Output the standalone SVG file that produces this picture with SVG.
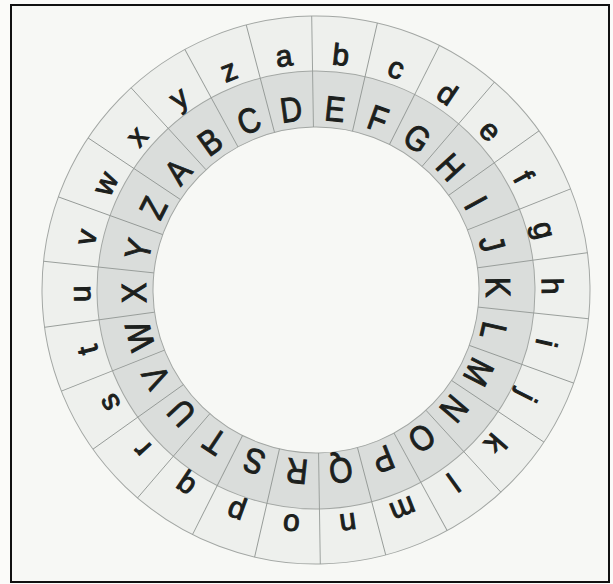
<svg xmlns="http://www.w3.org/2000/svg" xmlns:xlink="http://www.w3.org/1999/xlink" width="613" height="584" viewBox="0 0 613 584">
<style>
.lc{font-family:"Liberation Sans",Arial,sans-serif;font-size:30px;fill:#1c1f1d;text-anchor:middle;stroke:#1c1f1d;stroke-width:1}
.uc{font-family:"Liberation Sans",Arial,sans-serif;font-size:35px;fill:#1c1f1d;text-anchor:middle;stroke:#1c1f1d;stroke-width:1}
.ring{stroke:#a3a7a4;stroke-width:1}
.div{stroke:#959a97;stroke-width:0.9}
</style>
<defs>
<line id="d" class="div" x1="0" y1="-163" x2="0" y2="-274"/>
</defs>
<rect x="0" y="0" width="613" height="584" fill="#fbfbf9"/>
<rect id="frame" x="11" y="5" width="598" height="577" fill="#f7f8f5" stroke="#111" stroke-width="2"/>
<g transform="translate(316 290) rotate(-0.9)">
<g id="rings">
<circle class="ring" r="274" fill="#eef0ed"/>
<circle class="ring" r="219" fill="#dadddb"/>
<circle class="ring" r="163" fill="#f7f8f5"/>
</g>
<g id="connectors">
<use xlink:href="#d" transform="rotate(0)"/>
<use xlink:href="#d" transform="rotate(13.846)"/>
<use xlink:href="#d" transform="rotate(27.692)"/>
<use xlink:href="#d" transform="rotate(41.538)"/>
<use xlink:href="#d" transform="rotate(55.385)"/>
<use xlink:href="#d" transform="rotate(69.231)"/>
<use xlink:href="#d" transform="rotate(83.077)"/>
<use xlink:href="#d" transform="rotate(96.923)"/>
<use xlink:href="#d" transform="rotate(110.769)"/>
<use xlink:href="#d" transform="rotate(124.615)"/>
<use xlink:href="#d" transform="rotate(138.462)"/>
<use xlink:href="#d" transform="rotate(152.308)"/>
<use xlink:href="#d" transform="rotate(166.154)"/>
<use xlink:href="#d" transform="rotate(180)"/>
<use xlink:href="#d" transform="rotate(193.846)"/>
<use xlink:href="#d" transform="rotate(207.692)"/>
<use xlink:href="#d" transform="rotate(221.538)"/>
<use xlink:href="#d" transform="rotate(235.385)"/>
<use xlink:href="#d" transform="rotate(249.231)"/>
<use xlink:href="#d" transform="rotate(263.077)"/>
<use xlink:href="#d" transform="rotate(276.923)"/>
<use xlink:href="#d" transform="rotate(290.769)"/>
<use xlink:href="#d" transform="rotate(304.615)"/>
<use xlink:href="#d" transform="rotate(318.462)"/>
<use xlink:href="#d" transform="rotate(332.308)"/>
<use xlink:href="#d" transform="rotate(346.154)"/>
</g>
<g id="outer-letters">
<text class="lc" transform="rotate(-6.923) translate(0 -226)">a</text>
<text class="lc" transform="rotate(6.923) translate(0 -226)">b</text>
<text class="lc" transform="rotate(20.769) translate(0 -226)">c</text>
<text class="lc" transform="rotate(34.615) translate(0 -226)">d</text>
<text class="lc" transform="rotate(48.462) translate(0 -226)">e</text>
<text class="lc" transform="rotate(62.308) translate(0 -226)">f</text>
<text class="lc" transform="rotate(76.154) translate(0 -226)">g</text>
<text class="lc" transform="rotate(90) translate(0 -226)">h</text>
<text class="lc" transform="rotate(103.846) translate(0 -226)">i</text>
<text class="lc" transform="rotate(117.692) translate(0 -226)">j</text>
<text class="lc" transform="rotate(131.538) translate(0 -226)">k</text>
<text class="lc" transform="rotate(145.385) translate(0 -226)">l</text>
<text class="lc" transform="rotate(159.231) translate(0 -226)">m</text>
<text class="lc" transform="rotate(173.077) translate(0 -226)">n</text>
<text class="lc" transform="rotate(186.923) translate(0 -226)">o</text>
<text class="lc" transform="rotate(200.769) translate(0 -226)">p</text>
<text class="lc" transform="rotate(214.615) translate(0 -226)">q</text>
<text class="lc" transform="rotate(228.462) translate(0 -226)">r</text>
<text class="lc" transform="rotate(242.308) translate(0 -226)">s</text>
<text class="lc" transform="rotate(256.154) translate(0 -226)">t</text>
<text class="lc" transform="rotate(270) translate(0 -226)">u</text>
<text class="lc" transform="rotate(283.846) translate(0 -226)">v</text>
<text class="lc" transform="rotate(297.692) translate(0 -226)">w</text>
<text class="lc" transform="rotate(311.538) translate(0 -226)">x</text>
<text class="lc" transform="rotate(325.385) translate(0 -226)">y</text>
<text class="lc" transform="rotate(339.231) translate(0 -226)">z</text>
</g>
<g id="inner-letters">
<text class="uc" transform="rotate(311.538) translate(0 -170) scale(0.86 1)">A</text>
<text class="uc" transform="rotate(325.385) translate(0 -170) scale(0.86 1)">B</text>
<text class="uc" transform="rotate(339.231) translate(0 -170) scale(0.86 1)">C</text>
<text class="uc" transform="rotate(-6.923) translate(0 -170) scale(0.86 1)">D</text>
<text class="uc" transform="rotate(6.923) translate(0 -170) scale(0.86 1)">E</text>
<text class="uc" transform="rotate(20.769) translate(0 -170) scale(0.86 1)">F</text>
<text class="uc" transform="rotate(34.615) translate(0 -170) scale(0.86 1)">G</text>
<text class="uc" transform="rotate(48.462) translate(0 -170) scale(0.86 1)">H</text>
<text class="uc" transform="rotate(62.308) translate(0 -170) scale(0.86 1)">I</text>
<text class="uc" transform="rotate(76.154) translate(0 -170) scale(0.86 1)">J</text>
<text class="uc" transform="rotate(90) translate(0 -170) scale(0.86 1)">K</text>
<text class="uc" transform="rotate(103.846) translate(0 -170) scale(0.86 1)">L</text>
<text class="uc" transform="rotate(117.692) translate(0 -170) scale(0.86 1)">M</text>
<text class="uc" transform="rotate(131.538) translate(0 -170) scale(0.86 1)">N</text>
<text class="uc" transform="rotate(145.385) translate(0 -170) scale(0.86 1)">O</text>
<text class="uc" transform="rotate(159.231) translate(0 -170) scale(0.86 1)">P</text>
<text class="uc" transform="rotate(173.077) translate(0 -170) scale(0.86 1)">Q</text>
<text class="uc" transform="rotate(186.923) translate(0 -170) scale(0.86 1)">R</text>
<text class="uc" transform="rotate(200.769) translate(0 -170) scale(0.86 1)">S</text>
<text class="uc" transform="rotate(214.615) translate(0 -170) scale(0.86 1)">T</text>
<text class="uc" transform="rotate(228.462) translate(0 -170) scale(0.86 1)">U</text>
<text class="uc" transform="rotate(242.308) translate(0 -170) scale(0.86 1)">V</text>
<text class="uc" transform="rotate(256.154) translate(0 -170) scale(0.86 1)">W</text>
<text class="uc" transform="rotate(270) translate(0 -170) scale(0.86 1)">X</text>
<text class="uc" transform="rotate(283.846) translate(0 -170) scale(0.86 1)">Y</text>
<text class="uc" transform="rotate(297.692) translate(0 -170) scale(0.86 1)">Z</text>
</g>
</g>
</svg>
